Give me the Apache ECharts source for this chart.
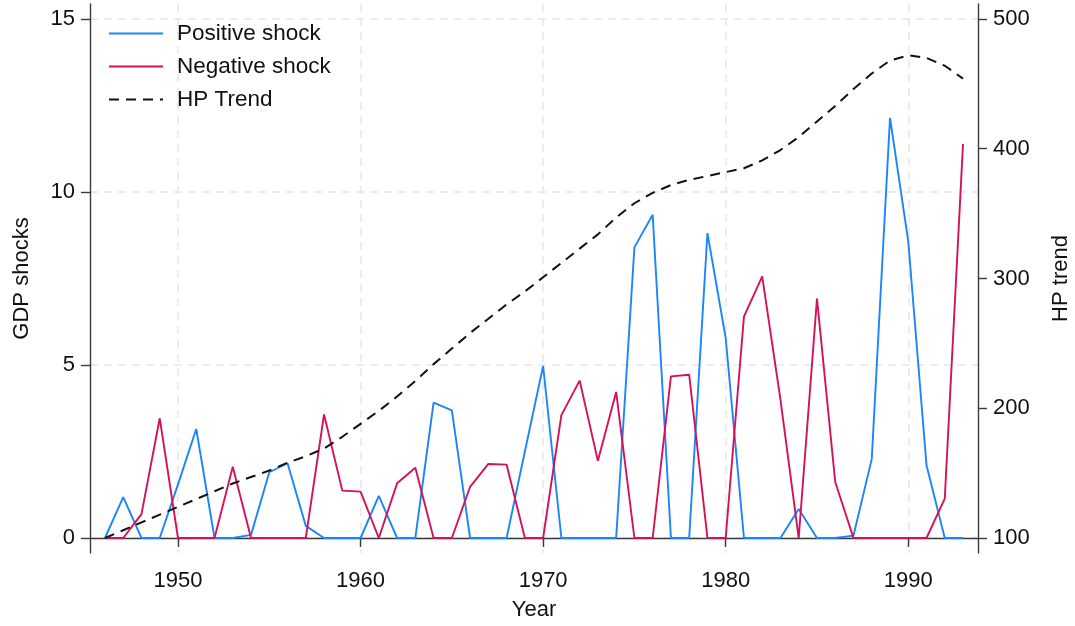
<!DOCTYPE html>
<html>
<head>
<meta charset="utf-8">
<script src="https://cdn.jsdelivr.net/npm/echarts@6/dist/echarts.min.js"></script>
<style>html,body{margin:0;padding:0;background:#fff;}#c{width:1075px;height:626px;}</style>
</head>
<body>
<div id="c"></div>
<script>
const years = [];
for (let y = 1946; y <= 1993; y++) years.push(y);
const positiveShock = [0,1.18,0,0,1.55,3.15,0,0,0.09,1.9,2.16,0.35,0,0,0,1.22,0,0,3.91,3.69,0,0,0,2.5,4.97,0,0,0,0,8.4,9.34,0,0,8.81,5.78,0,0,0,0.84,0,0,0.07,2.28,12.14,8.57,2.1,0,0];
const negativeShock = [0,0,0.69,3.46,0,0,0,2.06,0,0,0,0,3.57,1.37,1.34,0,1.58,2.03,0,0,1.48,2.14,2.12,0,0,3.55,4.55,2.23,4.22,0,0,4.67,4.72,0,0,6.4,7.56,4.0,0,6.92,1.62,0,0,0,0,0,1.14,11.39];
const hpTrend = [100,106,112,118,124,130,136,142,147,152,158,163,169,178,188,198,209,221,234,246,258,269,280,290,301,312,323,334,347,358,366,372,376,379,382,385,391,399,409,421,433,446,458,468,472,470,464,454];
const xTicks = [1950,1960,1970,1980,1990];
const leftTicks = [0,5,10,15];
const rightTicks = [100,200,300,400,500];

const font = 'Liberation Sans, Arial, sans-serif';
const axisLineStyle = {color:'#3a3a3a', width:1.4};
const gridStyle = {color:'#e6e6e6', width:1.5, type:[8,6]};
const pair = arr => years.map((y,i)=>[y, arr[i]]);
const lbl = {fontSize:22, color:'#111', fontFamily:font};

const chart = echarts.init(document.getElementById('c'), null, {renderer:'canvas'});
chart.setOption({
  animation:false,
  backgroundColor:'#fff',
  textStyle:{fontFamily:font},
  grid:{left:90, right:97, top:4, bottom:73, containLabel:false, outerBoundsMode:'none'},
  legend:{
    orient:'vertical', left:108, top:22, padding:0,
    itemWidth:54, itemHeight:20, itemGap:10,
    itemStyle:{opacity:0},
    textStyle:{fontSize:22.5, lineHeight:20, color:'#111', fontFamily:font, padding:[0,0,0,9]},
    data:['Positive shock','Negative shock','HP Trend']
  },
  xAxis:{
    type:'value', min:1945.18, max:1993.82,
    name:'Year', nameLocation:'middle', nameGap:46,
    nameTextStyle:lbl,
    axisLine:{show:true, lineStyle:axisLineStyle},
    axisTick:{show:true, length:9, customValues:xTicks, lineStyle:axisLineStyle},
    axisLabel:Object.assign({customValues:xTicks, margin:17, formatter:v=>String(v)}, lbl),
    splitLine:{show:true, lineStyle:gridStyle}
  },
  yAxis:[{
    type:'value', min:-0.4335, max:15.4335,
    name:'GDP shocks', nameLocation:'middle', nameGap:57,
    nameTextStyle:lbl,
    axisLine:{show:true, lineStyle:axisLineStyle},
    axisTick:{show:true, length:9, customValues:leftTicks, lineStyle:axisLineStyle},
    axisLabel:Object.assign({customValues:leftTicks, margin:15}, lbl),
    splitLine:{show:true, lineStyle:gridStyle}
  },{
    type:'value', min:88.44, max:511.56, position:'right',
    name:'HP trend', nameLocation:'middle', nameGap:72,
    nameTextStyle:lbl,
    axisLine:{show:true, lineStyle:axisLineStyle},
    axisTick:{show:true, length:9, customValues:rightTicks, lineStyle:axisLineStyle},
    axisLabel:Object.assign({customValues:rightTicks, margin:15}, lbl),
    splitLine:{show:false}
  }],
  series:[
    {name:'Positive shock', type:'line', yAxisIndex:0, symbol:'none', data:pair(positiveShock),
     lineStyle:{color:'#1A85FF', width:1.9}, itemStyle:{color:'#1A85FF'}, z:3},
    {name:'Negative shock', type:'line', yAxisIndex:0, symbol:'none', data:pair(negativeShock),
     lineStyle:{color:'#D41159', width:1.9}, itemStyle:{color:'#D41159'}, z:4},
    {name:'HP Trend', type:'line', yAxisIndex:1, symbol:'none', data:pair(hpTrend),
     lineStyle:{color:'#111', width:2, type:[10,7]}, itemStyle:{color:'#111'}, z:5}
  ]
});
</script>
</body>
</html>
